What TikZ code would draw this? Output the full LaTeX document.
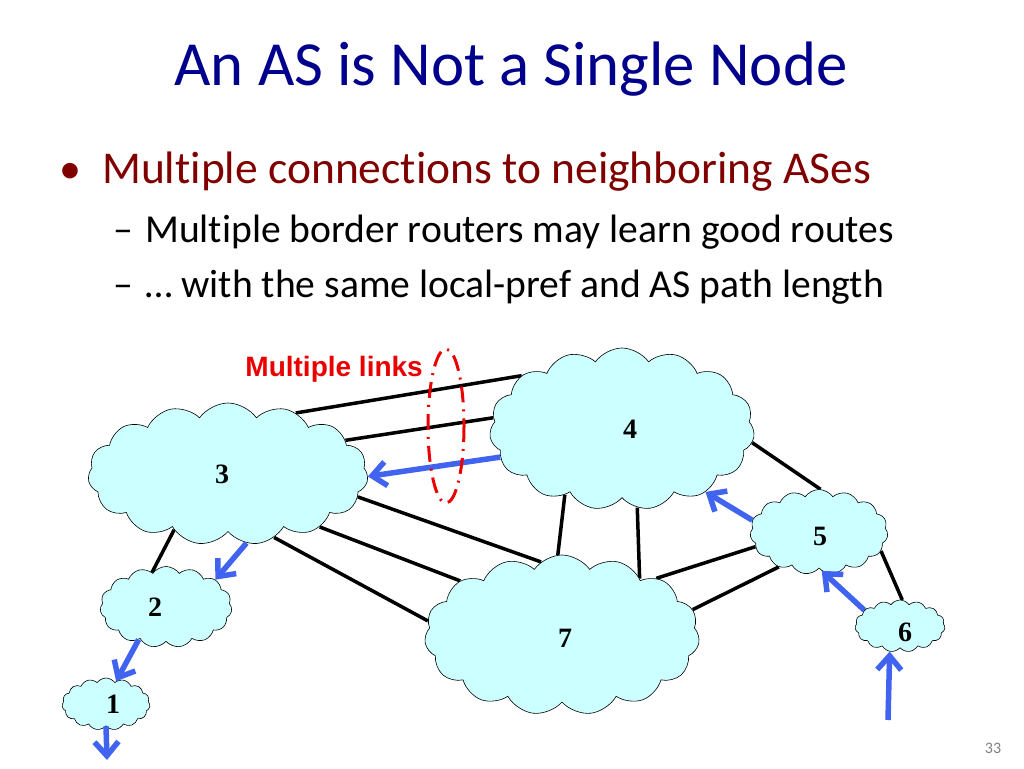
\documentclass[tikz,border=0pt]{standalone}
\usepackage{fontspec}
\setmainfont{Carlito}[Ligatures=NoCommon]
\newfontfamily\arialfont{Liberation Sans}
\newfontfamily\timesfont{Liberation Serif}
\usetikzlibrary{arrows.meta,shapes.symbols,backgrounds}
\definecolor{titleblue}{RGB}{0,0,140}
\definecolor{bulletred}{RGB}{128,0,0}
\definecolor{cloudfill}{RGB}{204,255,255}
\definecolor{routeblue}{RGB}{64,100,240}
\definecolor{linkred}{RGB}{235,0,0}

\begin{document}
\begin{tikzpicture}[x=1pt,y=-1pt,>={Straight Barb[length=14pt,width=24pt]},
		as node/.style={cloud,cloud puffs=15,cloud puff arc=110,cloud ignores aspect,draw,
			line width=0.6pt,fill=cloudfill,inner sep=0pt},
		every label/.style={font=\timesfont\bfseries\fontsize{28}{28}\selectfont},
		link/.style={line width=3.5pt},
		route/.style={->,line width=5.5pt,draw=routeblue}]
		\useasboundingbox (0,0) rectangle (1024,768);
		
		% slide text
		\node[anchor=base,text=titleblue,font=\fontsize{62.8}{62.8}\selectfont] (title) at (511,85) {An AS is Not a Single Node};
		\node[anchor=base,text=bulletred,font=\fontsize{44}{44}\selectfont] (dot) at (70,183) {•};
		\node[anchor=base west,inner sep=0pt,text=bulletred,font=\fontsize{45.5}{45.5}\selectfont] (b1) at (102,183) {Multiple connections to neighboring ASes};
		\node[anchor=base west,inner sep=0pt,font=\fontsize{39.6}{39.6}\selectfont] (d1) at (113,242) {–};
		\node[anchor=base west,inner sep=0pt,font=\fontsize{39.6}{39.6}\selectfont] (s1) at (145,242) {Multiple border routers may learn good routes};
		\node[anchor=base west,inner sep=0pt,font=\fontsize{39.6}{39.6}\selectfont] (d2) at (113,297) {–};
		\node[anchor=base west,inner sep=0pt,font=\fontsize{39.6}{39.6}\selectfont] (s2) at (145,297) {… with the same local-pref and AS path length};
		\node[text=gray,font=\fontsize{16}{16}\selectfont] (page) at (993,748) {33};
		
		% the ASes
		\node[as node,minimum width=280pt,minimum height=142pt] (as3) at (228,474) [label={[xshift=-6pt]center:3}]{};
		\node[as node,minimum width=265pt,minimum height=162pt] (as4) at (622,429) [label={[xshift=8pt]center:4}]{};
		\node[as node,minimum width=132pt,minimum height=81pt] (as2) at (166,607) [label={[xshift=-11pt]center:2}]{};
		\node[as node,minimum width=88pt,minimum height=52pt] (as1) at (106,704) [label={[xshift=7pt]center:1}]{};
		\node[as node,minimum width=275pt,minimum height=160pt] (as7) at (562,635) [label={[xshift=3pt,yshift=-3pt]center:7}]{};
		\node[as node,minimum width=138pt,minimum height=85pt] (as5) at (819,532) [label={[xshift=1pt,yshift=-4pt]center:5}]{};
		\node[as node,minimum width=90pt,minimum height=52pt] (as6) at (900,626) [label={[xshift=5pt,yshift=-6pt]center:6}]{};
		
		\begin{scope}[on background layer]
		\path[link]
		(as3.42) edge (as4.152)
		(as3.16) edge (as4.175)
		(as3.-10) edge (as7.106)
		(as3.-30) edge (as7.152)
		(as3.-54) edge (as7.174)
		(as3.-134) edge (as2.112)
		(as4.-131) edge (as7.93)
		(as4.-79) edge (as7.36)
		(as4.-6) edge (as5.88)
		(as7.31) edge (as5.-167)
		(as7.11) edge (as5.-139)
		(as5.-17) edge (as6.85);
		\end{scope}
		
		% routes
		\coordinate (out1) at (107,760);
		\coordinate (in6) at (888,720);
		\draw[route] (as4.193) -- (as3.-1);
		\draw[route] (as3.-75) -- (as2.29);
		\draw[route] (as2.-130) -- (as1.66);
		\draw[route] (as1.-90) -- (out1);
		\draw[route] (as5.170) -- (as4.-37);
		\draw[route] (as6.156) -- (as5.-86);
		\draw[route] (in6) -- (as6.-112);
		
		% multiple links
		\node[anchor=base east,inner sep=0pt,text=linkred,font=\arialfont\bfseries\fontsize{28}{28}\selectfont] (mlinks) at (423,376) {Multiple links};
		\draw[linkred,line width=3pt,dash pattern=on 16pt off 7pt on 2pt off 7pt] (446,426) ellipse [x radius=18,y radius=77];
\end{tikzpicture}
\end{document}
